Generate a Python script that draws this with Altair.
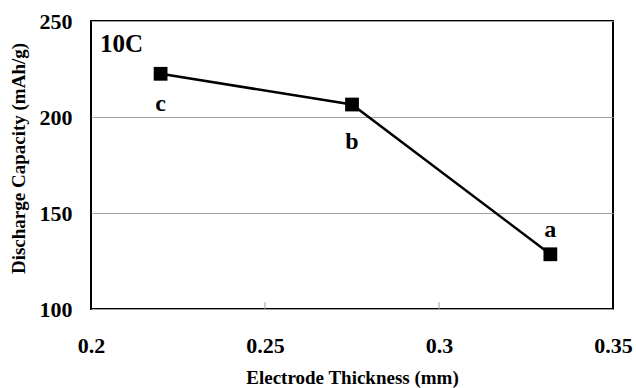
import altair as alt
import pandas as pd

thickness = [0.22, 0.275, 0.332]
capacity = [222.5, 206.5, 128.5]
labels = ["c", "b", "a"]
x_ticks = [0.2, 0.25, 0.3, 0.35]
y_ticks = [100, 150, 200, 250]
inner_ticks = [0.25, 0.3]

df = pd.DataFrame({"x": thickness, "y": capacity, "label": labels})
tick_df = pd.DataFrame({"x": inner_ticks, "y": [100] * 2, "y2": [103.6] * 2})
rate_df = pd.DataFrame({"x": [0.2], "y": [250], "t": ["10C"]})

FONT = "Liberation Serif"

xs = alt.Scale(domain=[0.2, 0.35], nice=False, zero=False)
ys = alt.Scale(domain=[100, 250], nice=False, zero=False)

xaxis = alt.Axis(values=x_ticks, format=".2~f", grid=False, ticks=False, domain=False,
                 labelFont=FONT, labelFontWeight="bold", labelFontSize=22, labelColor="black",
                 labelPadding=26, labelFlush=False,
                 title="Electrode Thickness (mm)", titleFont=FONT, titleFontWeight="bold",
                 titleFontSize=19, titleColor="black", titleY=68, titleBaseline="middle")
yaxis = alt.Axis(values=y_ticks, grid=True, gridColor="#a0a0a0", gridWidth=1, ticks=False, domain=False,
                 labelFont=FONT, labelFontWeight="bold", labelFontSize=22, labelColor="black",
                 labelPadding=19, labelFlush=False,
                 title="Discharge Capacity (mAh/g)", titleFont=FONT, titleFontWeight="bold",
                 titleFontSize=19, titleColor="black", titleX=-73, titleY=137,
                 titleAlign="center", titleBaseline="middle", titleAngle=270)

base = alt.Chart(df)

line = base.mark_line(color="black", strokeWidth=2.5).encode(
    x=alt.X("x:Q", scale=xs, axis=xaxis),
    y=alt.Y("y:Q", scale=ys, axis=yaxis),
)
pts = base.mark_point(shape="square", filled=True, color="black", size=190, opacity=1).encode(
    x=alt.X("x:Q", scale=xs), y=alt.Y("y:Q", scale=ys)
)

def lab(name, dy):
    return base.transform_filter(alt.datum.label == name).mark_text(
        font=FONT, fontWeight="bold", fontSize=24, color="black", baseline="alphabetic", dy=dy
    ).encode(x=alt.X("x:Q", scale=xs), y=alt.Y("y:Q", scale=ys), text="label:N")

ticks = alt.Chart(tick_df).mark_rule(color="#a0a0a0", strokeWidth=1).encode(
    x=alt.X("x:Q", scale=xs), y=alt.Y("y:Q", scale=ys), y2="y2:Q"
)

rate = alt.Chart(rate_df).mark_text(
    font=FONT, fontWeight="bold", fontSize=25, color="black", align="left", baseline="alphabetic",
    dx=9, dy=31
).encode(x=alt.X("x:Q", scale=xs), y=alt.Y("y:Q", scale=ys), text="t:N")

chart = alt.layer(ticks, line, pts, lab("c", 37), lab("b", 44), lab("a", -17), rate).properties(
    width=522, height=288,
    autosize=alt.AutoSizeParams(type="none"),
    padding={"left": 91, "top": 21, "right": 23, "bottom": 79},
    background="white",
).configure_view(stroke="black", strokeWidth=2)

chart.save("out.html", embed_options={"renderer": "svg", "actions": False})
